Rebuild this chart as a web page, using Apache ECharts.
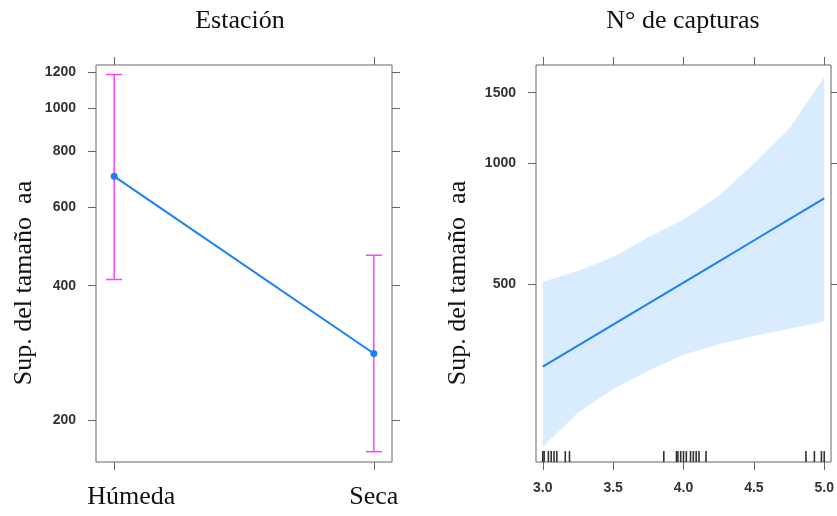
<!DOCTYPE html>
<html>
<head>
<meta charset="utf-8">
<script src="https://cdn.jsdelivr.net/npm/echarts@6/dist/echarts.min.js"></script>
<style>
  html, body { margin: 0; padding: 0; background: #fff; }
  #c { width: 837px; height: 516px; }
</style>
</head>
<body>
<div id="c"></div>
<script>
// Efecto de la estación
const estaciones = ['Húmeda', 'Seca'];
const estEfecto = [703, 282];
const estInf = [413, 170];
const estSup = [1188, 468];
const estYTicks = [200, 400, 600, 800, 1000, 1200];

// Efecto del número de capturas
const capX = [3.0, 3.25, 3.5, 3.75, 4.0, 4.25, 4.5, 4.75, 5.0];
const capEfecto = [312, 352, 397, 448, 505, 570, 643, 726, 819];
const capInf = [197, 240, 274, 305, 334, 355, 372, 388, 404];
const capSup = [508, 540, 585, 655, 725, 830, 1000, 1220, 1642];
const capRug = [3.0, 3.01, 3.04, 3.06, 3.08, 3.10, 3.16, 3.19,
                3.86, 3.95, 3.96, 3.98, 4.0, 4.02, 4.05, 4.07, 4.09, 4.11, 4.16,
                4.87, 4.93, 4.98, 5.0];
const capYTicks = [500, 1000, 1500];
const capXTicks = [3.0, 3.5, 4.0, 4.5, 5.0];

const BOX = '#666666';
const LINE = '#1a80f5';
const BAND = '#d9ebff';
const BAR = '#ff3cff';
const SERIF = '"Liberation Serif", "Times New Roman", serif';
const SANS = '"Liberation Sans", Arial, sans-serif';

const tickStyle = { show: true, inside: false, length: 8, lineStyle: { color: BOX, width: 1 } };
const numLabel = { color: '#333', fontFamily: SANS, fontSize: 14, fontWeight: 'bold' };

function yAxisPair(grid, min, max, ticks) {
  return [
    { gridIndex: grid, type: 'log', logBase: 10, min, max, position: 'left',
      axisLine: { show: false }, splitLine: { show: false },
      axisTick: Object.assign({ customValues: ticks }, tickStyle),
      axisLabel: Object.assign({ customValues: ticks, margin: 20, formatter: v => String(Math.round(v)) }, numLabel) },
    { gridIndex: grid, type: 'log', logBase: 10, min, max, position: 'right',
      axisLine: { show: false }, splitLine: { show: false },
      axisTick: Object.assign({ customValues: ticks }, tickStyle),
      axisLabel: { show: false } }
  ];
}

const chart = echarts.init(document.getElementById('c'), null, { renderer: 'canvas' });

chart.setOption({
  animation: false,
  backgroundColor: '#fff',
  grid: [
    { left: 96, top: 65, width: 296, height: 397, show: true, borderColor: BOX, borderWidth: 1, backgroundColor: 'transparent' },
    { left: 536, top: 65, width: 295, height: 397, show: true, borderColor: BOX, borderWidth: 1, backgroundColor: 'transparent' }
  ],
  xAxis: [
    { gridIndex: 0, type: 'value', min: 0.93, max: 2.07, position: 'bottom',
      axisLine: { show: false, onZero: false }, splitLine: { show: false },
      axisTick: Object.assign({ customValues: [1, 2] }, tickStyle),
      axisLabel: { customValues: [1, 2], margin: 22, color: '#111', fontFamily: SERIF, fontSize: 26,
                   formatter: v => (Math.round(v) === 1 ? '{a|' : '{b|') + estaciones[Math.round(v) - 1] + '}',
                   rich: {
                     a: { fontFamily: SERIF, fontSize: 26, color: '#111', padding: [0, 0, 0, 34] },
                     b: { fontFamily: SERIF, fontSize: 26, color: '#111' }
                   } } },
    { gridIndex: 0, type: 'value', min: 0.93, max: 2.07, position: 'top',
      axisLine: { show: false, onZero: false }, splitLine: { show: false },
      axisTick: Object.assign({ customValues: [1, 2] }, tickStyle),
      axisLabel: { show: false } },
    { gridIndex: 1, type: 'value', min: 2.952, max: 5.048, position: 'bottom',
      axisLine: { show: false, onZero: false }, splitLine: { show: false },
      axisTick: Object.assign({ customValues: capXTicks }, tickStyle),
      axisLabel: Object.assign({ customValues: capXTicks, margin: 19, formatter: v => v.toFixed(1) }, numLabel) },
    { gridIndex: 1, type: 'value', min: 2.952, max: 5.048, position: 'top',
      axisLine: { show: false, onZero: false }, splitLine: { show: false },
      axisTick: Object.assign({ customValues: capXTicks }, tickStyle),
      axisLabel: { show: false } }
  ],
  yAxis: [
    ...yAxisPair(0, 161.2, 1248, estYTicks),
    ...yAxisPair(1, 180.7, 1758, capYTicks)
  ],
  graphic: [
    { type: 'text', style: { text: 'Estación', x: 240, y: 21, align: 'center', verticalAlign: 'middle',
      font: '26px ' + SERIF, fill: '#111' } },
    { type: 'text', style: { text: 'N° de capturas', x: 683, y: 21, align: 'center', verticalAlign: 'middle',
      font: '26px ' + SERIF, fill: '#111' } },
    { type: 'text', x: 24, y: 283, rotation: Math.PI / 2,
      style: { text: 'Sup. del tamaño  aa', align: 'center', verticalAlign: 'middle', font: '26px ' + SERIF, fill: '#111' } },
    { type: 'text', x: 458, y: 283, rotation: Math.PI / 2,
      style: { text: 'Sup. del tamaño  aa', align: 'center', verticalAlign: 'middle', font: '26px ' + SERIF, fill: '#111' } }
  ],
  series: [
    // intervalos de confianza por estación
    { type: 'custom', xAxisIndex: 0, yAxisIndex: 0, z: 2,
      data: estaciones.map((n, i) => [i + 1, estInf[i], estSup[i]]),
      renderItem(params, api) {
        const x = api.value(0);
        const lo = api.coord([x, api.value(1)]);
        const hi = api.coord([x, api.value(2)]);
        const w = 8;
        const style = { stroke: BAR, lineWidth: 1.5 };
        return { type: 'group', children: [
          { type: 'line', shape: { x1: lo[0], y1: lo[1], x2: hi[0], y2: hi[1] }, style },
          { type: 'line', shape: { x1: lo[0] - w, y1: lo[1], x2: lo[0] + w, y2: lo[1] }, style },
          { type: 'line', shape: { x1: hi[0] - w, y1: hi[1], x2: hi[0] + w, y2: hi[1] }, style }
        ] };
      } },
    { type: 'line', xAxisIndex: 0, yAxisIndex: 0, z: 3,
      data: estaciones.map((n, i) => [i + 1, estEfecto[i]]),
      symbol: 'circle', symbolSize: 7, showSymbol: true,
      itemStyle: { color: LINE }, lineStyle: { color: LINE, width: 2 } },
    // banda de confianza
    { type: 'custom', xAxisIndex: 2, yAxisIndex: 2, z: 1, clip: true,
      data: [[capX[0], capInf[0]]],
      renderItem(params, api) {
        const pts = [];
        capX.forEach((x, i) => pts.push(api.coord([x, capSup[i]])));
        for (let i = capX.length - 1; i >= 0; i--) pts.push(api.coord([capX[i], capInf[i]]));
        return { type: 'polygon', shape: { points: pts }, style: { fill: BAND } };
      } },
    { type: 'line', xAxisIndex: 2, yAxisIndex: 2, z: 3,
      data: capX.map((x, i) => [x, capEfecto[i]]),
      showSymbol: false, lineStyle: { color: LINE, width: 2 } },
    // rug de observaciones
    { type: 'custom', xAxisIndex: 2, yAxisIndex: 2, z: 4,
      data: capRug.map(v => [v]),
      encode: { x: 0 },
      renderItem(params, api) {
        const cs = params.coordSys;
        const p = api.coord([api.value(0), 1000]);
        const bottom = cs.y + cs.height;
        return { type: 'line', shape: { x1: p[0], y1: bottom, x2: p[0], y2: bottom - 11 },
                 style: { stroke: '#333', lineWidth: 1.6 } };
      } }
  ]
});
</script>
</body>
</html>
